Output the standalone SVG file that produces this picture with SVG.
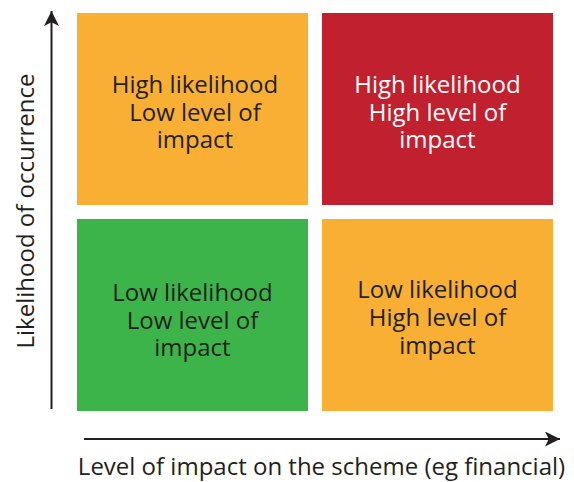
<svg xmlns="http://www.w3.org/2000/svg" width="574" height="482" viewBox="0 0 574 482">
  <style>
    .lbl { font-family: "Open Sans", "Noto Sans", "Liberation Sans", sans-serif; font-size: 24px; fill: #231f20; text-anchor: middle; }
    .light { fill: #ffffff; }
    .axis-lbl { font-family: "Open Sans", "Noto Sans", "Liberation Sans", sans-serif; font-size: 24px; fill: #231f20; text-anchor: middle; }
    .axis { stroke: #231f20; stroke-width: 2; fill: none; }
  </style>
  <defs>
    <marker id="arrow" viewBox="0 0 10 10" refX="10" refY="5" markerWidth="7.5" markerHeight="7.5" orient="auto" markerUnits="strokeWidth">
      <path d="M0,0 L10,5 L0,10 L2.5,5 Z" fill="#231f20"/>
    </marker>
  </defs>
  <rect width="574" height="482" fill="#ffffff"/>

  <g id="high-low">
    <rect x="77" y="13" width="231" height="192" fill="#f8af33"/>
    <text class="lbl" x="195" y="93">High likelihood</text>
    <text class="lbl" x="195" y="121">Low level of</text>
    <text class="lbl" x="195" y="148">impact</text>
  </g>
  <g id="high-high">
    <rect x="322" y="13" width="231" height="192" fill="#c1202f"/>
    <text class="lbl light" x="437.5" y="93">High likelihood</text>
    <text class="lbl light" x="437.5" y="121">High level of</text>
    <text class="lbl light" x="437.5" y="148">impact</text>
  </g>
  <g id="low-low">
    <rect x="77" y="219" width="231" height="192" fill="#3cb44a"/>
    <text class="lbl" x="192.5" y="301">Low likelihood</text>
    <text class="lbl" x="192.5" y="329">Low level of</text>
    <text class="lbl" x="192.5" y="356">impact</text>
  </g>
  <g id="low-high">
    <rect x="322" y="219" width="231" height="192" fill="#f8af33"/>
    <text class="lbl" x="437.5" y="298">Low likelihood</text>
    <text class="lbl" x="437.5" y="326">High level of</text>
    <text class="lbl" x="437.5" y="354">impact</text>
  </g>

  <g id="connectors">
    <line class="axis" x1="51.5" y1="409" x2="51.5" y2="11" marker-end="url(#arrow)"/>
    <line class="axis" x1="84" y1="439" x2="560" y2="439" marker-end="url(#arrow)"/>
  </g>

  <g id="axis-labels">
    <text class="axis-lbl" transform="translate(34,211) rotate(-90)">Likelihood of occurrence</text>
    <text class="axis-lbl" x="321.5" y="475">Level of impact on the scheme (eg financial)</text>
  </g>
</svg>
